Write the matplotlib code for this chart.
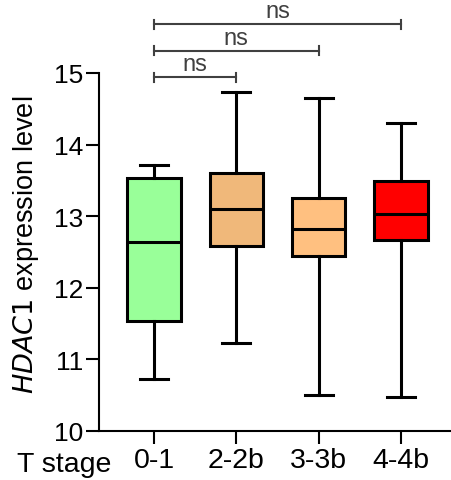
import matplotlib
matplotlib.use("Agg")
import matplotlib.pyplot as plt

plt.rcParams['font.family'] = ['Liberation Sans', 'DejaVu Sans']

categories = ["0-1", "2-2b", "3-3b", "4-4b"]
whisker_low = [10.72, 11.23, 10.50, 10.48]
q1 = [11.53, 12.58, 12.45, 12.67]
medians = [12.64, 13.10, 12.82, 13.03]
q3 = [13.53, 13.61, 13.25, 13.49]
whisker_high = [13.72, 14.73, 14.65, 14.30]
colors = ["#99FF99", "#F0B87A", "#FFC080", "#FF0000"]
comparisons = [(0, 1, "ns"), (0, 2, "ns"), (0, 3, "ns")]
yticks = [10, 11, 12, 13, 14, 15]

W, H = 451, 481
fig = plt.figure(figsize=(W/100, H/100), dpi=100)
ax = fig.add_axes([99/W, 1-432/H, (W-99)/W, (432-74)/H])

stats = []
for i, c in enumerate(categories):
    stats.append(dict(label=c, whislo=whisker_low[i], q1=q1[i], med=medians[i],
                      q3=q3[i], whishi=whisker_high[i], fliers=[]))

lw = 2.2
bp = ax.bxp(stats, positions=range(len(categories)), widths=0.65,
            patch_artist=True, showfliers=False,
            boxprops=dict(linewidth=lw, edgecolor='black'),
            medianprops=dict(linewidth=lw, color='black'),
            whiskerprops=dict(linewidth=lw, color='black'),
            capprops=dict(linewidth=lw, color='black'),
            capwidths=0.34)
for patch, col in zip(bp['boxes'], colors):
    patch.set_facecolor(col)

ax.set_xlim(-0.67, 3.61)
ax.set_ylim(10, 15)
ax.set_yticks(yticks)
ax.set_xticks(range(len(categories)))
ax.set_xticklabels(categories, fontsize=20.5)
ax.tick_params(axis='y', labelsize=19, length=9.5, width=1.5, pad=2)
ax.tick_params(axis='x', length=9.5, width=1.5, pad=2)
for s in ['top', 'right']:
    ax.spines[s].set_visible(False)
for s in ['left', 'bottom']:
    ax.spines[s].set_linewidth(1.5)

fig.text(26/W, 1-245/H, r"$\it{HDAC1}$ expression level", fontsize=19.5,
         rotation=90, ha='center', va='center')
fig.text(17/W, 1-472/H, "T stage", fontsize=20.5, ha='left', va='baseline')

bar_y = [14.94, 15.31, 15.68]
tick_h = 0.063
bar_col = '#404040'
for (a, b, lab), y in zip(comparisons, bar_y):
    ax.plot([a, b], [y, y], color=bar_col, lw=1.5, clip_on=False)
    ax.plot([a, a], [y - tick_h, y + tick_h], color=bar_col, lw=1.5, clip_on=False)
    ax.plot([b, b], [y - tick_h, y + tick_h], color=bar_col, lw=1.5, clip_on=False)
    ax.text((a + b) / 2, y + 0.03, lab, ha='center', va='bottom', fontsize=17,
            color=bar_col, clip_on=False)

fig.savefig("out.png", dpi=100)
